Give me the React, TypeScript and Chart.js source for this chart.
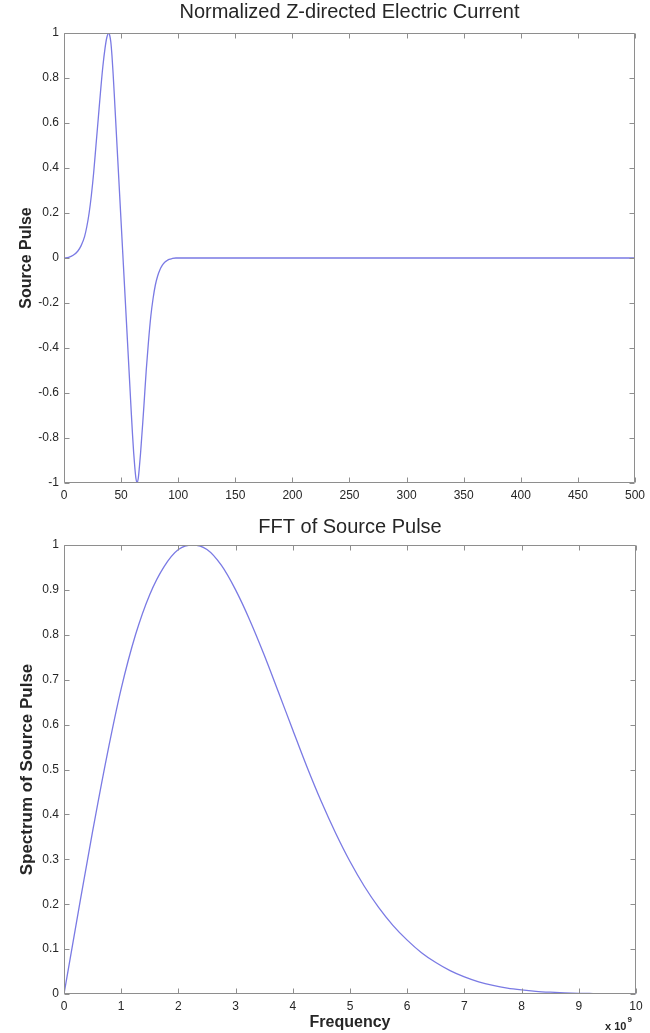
import React, { useEffect, useRef } from 'react';
import { Chart, registerables } from 'chart.js';

Chart.register(...registerables);

// ---------- Data: top plot (source pulse vs time step) ----------
const pulseTime = [
  0, 4, 8, 12, 15, 18, 20, 22, 24, 26, 28, 30, 32, 34, 36, 37.5, 39, 40, 41, 42, 43, 44, 45, 46, 47, 48, 49, 50,
  51, 52, 53, 54, 55, 56, 57, 58, 59, 60, 61, 62, 63, 64, 65, 66, 67, 68, 69, 70, 72, 74, 76, 78, 80, 82, 84,
  86, 88, 90, 92, 95, 98, 100, 150, 200, 250, 300, 350, 400, 450, 500,
];
const pulseValue = [
  0, 0.003, 0.012, 0.03, 0.055, 0.095, 0.14, 0.2, 0.28, 0.38, 0.5, 0.62, 0.74, 0.85, 0.935, 0.98, 1.0, 0.99,
  0.96, 0.9, 0.82, 0.73, 0.635, 0.54, 0.445, 0.35, 0.255, 0.16, 0.065, -0.03, -0.125, -0.22, -0.315, -0.41,
  -0.505, -0.6, -0.695, -0.785, -0.865, -0.93, -0.98, -1.0, -0.98, -0.93, -0.87, -0.8, -0.73, -0.655, -0.5,
  -0.37, -0.26, -0.18, -0.12, -0.08, -0.052, -0.033, -0.02, -0.012, -0.006, -0.002, 0, 0, 0, 0, 0, 0, 0, 0, 0, 0,
];
const pulseXTicks = [0, 50, 100, 150, 200, 250, 300, 350, 400, 450, 500];
const pulseYTicks = [-1, -0.8, -0.6, -0.4, -0.2, 0, 0.2, 0.4, 0.6, 0.8, 1];

// ---------- Data: bottom plot (spectrum vs frequency, x 10^9) ----------
const frequency = [
  0, 0.25, 0.5, 0.75, 1, 1.25, 1.5, 1.75, 2, 2.25, 2.5, 2.75, 3, 3.25, 3.5, 3.75, 4, 4.25, 4.5, 4.75, 5, 5.25,
  5.5, 5.75, 6, 6.25, 6.5, 6.75, 7, 7.25, 7.5, 7.75, 8, 8.25, 8.5, 8.75, 9, 9.25, 9.5, 9.75, 10,
];
const spectrum = [
  0, 0.183, 0.362, 0.53, 0.68, 0.8, 0.89, 0.952, 0.99, 1.0, 0.99, 0.955, 0.9, 0.832, 0.755, 0.672, 0.588, 0.505,
  0.428, 0.358, 0.295, 0.24, 0.193, 0.153, 0.12, 0.092, 0.07, 0.052, 0.038, 0.027, 0.019, 0.013, 0.009, 0.006,
  0.004, 0.0025, 0.0015, 0.001, 0.0006, 0.0003, 0.0002,
];
const freqTicks = [0, 1, 2, 3, 4, 5, 6, 7, 8, 9, 10];
const spectrumTicks = [0, 0.1, 0.2, 0.3, 0.4, 0.5, 0.6, 0.7, 0.8, 0.9, 1];

const topTitle = 'Normalized Z-directed Electric Current';
const topYLabel = 'Source Pulse';
const bottomTitle = 'FFT of Source Pulse';
const bottomYLabel = 'Spectrum of Source Pulse';
const bottomXLabel = 'Frequency';
const bottomXMultiplier = ['x 10', '9'];

const FONT = "'Liberation Sans', Arial, Helvetica, sans-serif";
const LINE_COLOR = 'rgb(122, 122, 228)';
const FRAME_COLOR = '#8e8e8e';
const TEXT_COLOR = '#262626';

const fmt = (v: number) => String(parseFloat(Number(v).toFixed(2)));

const framePlugin = {
  id: 'matlabFrame',
  afterDatasetsDraw(chart: any) {
    const { ctx, chartArea, scales } = chart;
    const { left, right, top, bottom } = chartArea;
    const L = Math.round(left) + 0.5;
    const R = Math.round(right) - 0.5;
    const T = Math.round(top) + 0.5;
    const B = Math.round(bottom) - 0.5;
    const len = 5;
    ctx.save();
    ctx.strokeStyle = FRAME_COLOR;
    ctx.lineWidth = 1;
    ctx.beginPath();
    ctx.rect(L, T, R - L, B - T);
    scales.x.ticks.forEach((t: any) => {
      const px = Math.round(scales.x.getPixelForValue(t.value)) + 0.5;
      ctx.moveTo(px, B);
      ctx.lineTo(px, B - len);
      ctx.moveTo(px, T);
      ctx.lineTo(px, T + len);
    });
    scales.y.ticks.forEach((t: any) => {
      const py = Math.round(scales.y.getPixelForValue(t.value)) + 0.5;
      ctx.moveTo(L, py);
      ctx.lineTo(L + len, py);
      ctx.moveTo(R, py);
      ctx.lineTo(R - len, py);
    });
    ctx.stroke();
    ctx.restore();
  },
};

const multiplierPlugin = {
  id: 'multiplier',
  afterDraw(chart: any) {
    const { ctx, chartArea } = chart;
    ctx.save();
    ctx.fillStyle = TEXT_COLOR;
    ctx.textBaseline = 'middle';
    ctx.textAlign = 'left';
    ctx.font = `bold 11px ${FONT}`;
    const x = chartArea.right - 31;
    const y = chartArea.bottom + 33;
    ctx.fillText(bottomXMultiplier[0], x, y);
    const w = ctx.measureText(bottomXMultiplier[0]).width;
    ctx.font = `bold 8px ${FONT}`;
    ctx.fillText(bottomXMultiplier[1], x + w + 1, y - 7);
    ctx.restore();
  },
};

function makeConfig(opts: {
  xs: number[];
  ys: number[];
  xTicks: number[];
  yTicks: number[];
  title: string;
  titlePadBottom: number;
  yLabel: string;
  yLabelSize: number;
  xLabel?: string;
  xScaleHeight: number;
  plugins: any[];
}) {
  const data = opts.xs.map((x, i) => ({ x, y: opts.ys[i] }));
  return {
    type: 'line' as const,
    data: {
      datasets: [
        {
          data,
          borderColor: LINE_COLOR,
          borderWidth: 1.3,
          pointRadius: 0,
          fill: false,
          cubicInterpolationMode: 'monotone' as const,
        },
      ],
    },
    plugins: opts.plugins,
    options: {
      animation: false as const,
      responsive: false,
      devicePixelRatio: 1,
      layout: { padding: { left: 0, right: 14, top: 0, bottom: 0 } },
      plugins: {
        legend: { display: false },
        tooltip: { enabled: false },
        title: {
          display: true,
          fullSize: false,
          text: opts.title,
          color: TEXT_COLOR,
          font: { size: 20, family: FONT, weight: 'normal' as const },
          padding: { top: 0, bottom: opts.titlePadBottom },
        },
      },
      scales: {
        x: {
          type: 'linear' as const,
          min: opts.xTicks[0],
          max: opts.xTicks[opts.xTicks.length - 1],
          grid: { display: false, drawTicks: false },
          border: { display: false },
          afterBuildTicks: (s: any) => {
            s.ticks = opts.xTicks.map((v) => ({ value: v }));
          },
          afterFit: (s: any) => {
            s.height = opts.xScaleHeight;
          },
          ticks: {
            color: TEXT_COLOR,
            font: { size: 12, family: FONT },
            padding: 5,
            maxRotation: 0,
            autoSkip: false,
            callback: (v: any) => fmt(v),
          },
          title: opts.xLabel
            ? {
                display: true,
                text: opts.xLabel,
                color: TEXT_COLOR,
                font: { size: 16, family: FONT, weight: 'bold' as const },
                padding: { top: 0, bottom: 1 },
              }
            : { display: false },
        },
        y: {
          type: 'linear' as const,
          min: opts.yTicks[0],
          max: opts.yTicks[opts.yTicks.length - 1],
          grid: { display: false, drawTicks: false },
          border: { display: false },
          afterBuildTicks: (s: any) => {
            s.ticks = opts.yTicks.map((v) => ({ value: v }));
          },
          afterFit: (s: any) => {
            s.width = 64;
          },
          ticks: {
            color: TEXT_COLOR,
            font: { size: 12, family: FONT },
            padding: 5,
            autoSkip: false,
            callback: (v: any) => fmt(v),
          },
          title: {
            display: true,
            text: opts.yLabel,
            color: TEXT_COLOR,
            font: { size: opts.yLabelSize, family: FONT, weight: 'bold' as const },
            padding: { top: 17, bottom: 0 },
          },
        },
      },
    },
  };
}

export default function App() {
  const topRef = useRef<HTMLCanvasElement | null>(null);
  const bottomRef = useRef<HTMLCanvasElement | null>(null);

  useEffect(() => {
    const top = new Chart(
      topRef.current as HTMLCanvasElement,
      makeConfig({
        xs: pulseTime,
        ys: pulseValue,
        xTicks: pulseXTicks,
        yTicks: pulseYTicks,
        title: topTitle,
        titlePadBottom: 9,
        yLabel: topYLabel,
        yLabelSize: 16,
        xScaleHeight: 32,
        plugins: [framePlugin],
      }) as any
    );
    const bottom = new Chart(
      bottomRef.current as HTMLCanvasElement,
      makeConfig({
        xs: frequency,
        ys: spectrum,
        xTicks: freqTicks,
        yTicks: spectrumTicks,
        title: bottomTitle,
        titlePadBottom: 6,
        yLabel: bottomYLabel,
        yLabelSize: 17,
        xLabel: bottomXLabel,
        xScaleHeight: 39,
        plugins: [framePlugin, multiplierPlugin],
      }) as any
    );
    return () => {
      top.destroy();
      bottom.destroy();
    };
  }, []);

  return (
    <div style={{ position: 'absolute', left: 0, top: 0, width: 650, height: 1033, background: '#fff' }}>
      <canvas
        ref={topRef}
        width={650}
        height={515}
        style={{ position: 'absolute', left: 0, top: 0, width: 650, height: 515 }}
      />
      <canvas
        ref={bottomRef}
        width={650}
        height={518}
        style={{ position: 'absolute', left: 0, top: 515, width: 650, height: 518 }}
      />
    </div>
  );
}
